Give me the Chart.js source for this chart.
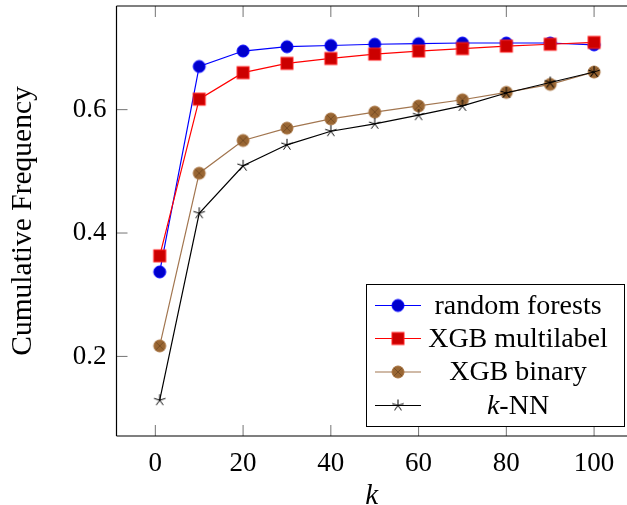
<!DOCTYPE html>
<html><head><meta charset="utf-8">
<script src="https://cdn.jsdelivr.net/npm/chart.js@4"></script>
<style>
html,body{margin:0;padding:0;overflow:hidden;background:#fff;width:627px;height:505px}
#wrap{position:relative;width:627px;height:505px}
</style></head>
<body><div id="wrap"><canvas id="c" width="627" height="505"></canvas></div>
<script>
// ---- data ----
const kValues = [1, 10, 20, 30, 40, 50, 60, 70, 80, 90, 100];
const randomForests = [0.337, 0.670, 0.695, 0.702, 0.704, 0.706, 0.707, 0.708, 0.708, 0.708, 0.705];
const xgbMultilabel = [0.363, 0.617, 0.660, 0.675, 0.683, 0.690, 0.695, 0.699, 0.703, 0.706, 0.709];
const xgbBinary     = [0.217, 0.497, 0.550, 0.570, 0.585, 0.596, 0.606, 0.616, 0.628, 0.641, 0.661];
const knn           = [0.129, 0.432, 0.509, 0.543, 0.565, 0.577, 0.591, 0.606, 0.627, 0.644, 0.661];
const seriesNames = ['random forests', 'XGB multilabel', 'XGB binary', 'k-NN'];
const xTickValues = [0, 20, 40, 60, 80, 100];
const yTickValues = [0.2, 0.4, 0.6];
const xRange = [-8.85, 107.5];
const yRange = [0.071, 0.768];
const xTitle = 'k';
const yTitle = 'Cumulative Frequency';

const FONT = "'Liberation Serif', 'DejaVu Serif', serif";

// ---- markers ----
function mk(draw){ const c=document.createElement('canvas'); c.width=18; c.height=18; const g=c.getContext('2d'); g.translate(9,9); draw(g); return c; }
const mCircle = mk(g=>{ g.beginPath(); g.arc(0,0,6,0,Math.PI*2); g.fillStyle='#0000cc'; g.fill(); g.lineWidth=1; g.strokeStyle='#0000ff'; g.stroke(); });
const mSquare = mk(g=>{ g.fillStyle='#cc0000'; g.fillRect(-6,-6,12,12); g.lineWidth=1; g.strokeStyle='#ff2020'; g.strokeRect(-6,-6,12,12); });
const mOtimes = mk(g=>{ g.beginPath(); g.arc(0,0,6,0,Math.PI*2); g.fillStyle='#996633'; g.fill(); g.lineWidth=1; g.strokeStyle='#a87340'; g.stroke();
  const d=6/Math.SQRT2; g.beginPath(); g.moveTo(-d,-d); g.lineTo(d,d); g.moveTo(-d,d); g.lineTo(d,-d); g.lineWidth=0.8; g.strokeStyle='#6e4622'; g.stroke(); });
const mStar = mk(g=>{ g.beginPath(); for(let i=0;i<5;i++){ const a=-Math.PI/2+i*2*Math.PI/5; g.moveTo(0,0); g.lineTo(6*Math.cos(a),6*Math.sin(a)); } g.lineWidth=1; g.strokeStyle='#000'; g.stroke(); });

const lineColors = ['#0000ff', '#ff0000', '#a27650', '#000000'];
const markers = [mCircle, mSquare, mOtimes, mStar];
const seriesValues = [randomForests, xgbMultilabel, xgbBinary, knn];

const datasets = seriesValues.map((vals, i) => ({
  label: seriesNames[i],
  data: kValues.map((k, j) => ({x: k, y: vals[j]})),
  borderColor: lineColors[i],
  borderWidth: 1.2,
  pointStyle: markers[i],
  pointRadius: 6,
  pointHoverRadius: 6,
  fill: false,
  tension: 0,
  order: 3 - i
}));

const framePlugin = {
  id: 'frame',
  afterDraw(chart) {
    const ctx = chart.ctx, a = chart.chartArea, xs = chart.scales.x, ys = chart.scales.y;
    ctx.save();
    // ticks (inside)
    ctx.strokeStyle = 'rgba(0,0,0,0.55)'; ctx.lineWidth = 1;
    ctx.beginPath();
    xTickValues.forEach(v => { const p = xs.getPixelForValue(v);
      ctx.moveTo(p, a.bottom); ctx.lineTo(p, a.bottom - 11);
      ctx.moveTo(p, a.top); ctx.lineTo(p, a.top + 11); });
    yTickValues.forEach(v => { const p = ys.getPixelForValue(v);
      ctx.moveTo(a.left, p); ctx.lineTo(a.left + 11, p); });
    ctx.stroke();
    // frame (right side lies beyond the visible picture)
    ctx.strokeStyle = '#000'; ctx.lineWidth = 1.2;
    ctx.beginPath();
    ctx.moveTo(a.left, a.top); ctx.lineTo(a.right + 2, a.top);
    ctx.moveTo(a.left, a.top); ctx.lineTo(a.left, a.bottom);
    ctx.moveTo(a.left, a.bottom); ctx.lineTo(a.right + 2, a.bottom);
    ctx.stroke();
    // legend
    const lx = 366.5, ly = 284.5, lw = 258, lh = 142;
    ctx.fillStyle = '#fff'; ctx.fillRect(lx, ly, lw, lh);
    ctx.strokeStyle = '#000'; ctx.lineWidth = 1; ctx.strokeRect(lx, ly, lw, lh);
    const rowY = [305.5, 338.5, 372, 405.5];
    const LF = 28;
    ctx.textBaseline = 'middle'; ctx.fillStyle = '#000';
    seriesNames.forEach((name, i) => {
      const y = rowY[i];
      ctx.strokeStyle = lineColors[i]; ctx.lineWidth = 1.2;
      ctx.beginPath(); ctx.moveTo(375, y); ctx.lineTo(421, y); ctx.stroke();
      ctx.drawImage(markers[i], 398 - 9, y - 9);
      const cx = 518;
      if (name.startsWith('k-')) {
        ctx.font = 'italic ' + LF + 'px ' + FONT; const w1 = ctx.measureText('k').width;
        ctx.font = LF + 'px ' + FONT; const w2 = ctx.measureText(name.slice(1)).width;
        let x0 = cx - (w1 + w2) / 2;
        ctx.textAlign = 'left';
        ctx.font = 'italic ' + LF + 'px ' + FONT; ctx.fillText('k', x0, y + 1);
        ctx.font = LF + 'px ' + FONT; ctx.fillText(name.slice(1), x0 + w1, y + 1);
      } else {
        ctx.textAlign = 'center'; ctx.font = LF + 'px ' + FONT;
        ctx.fillText(name, cx, y + 1);
      }
    });
    ctx.restore();
  }
};

new Chart(document.getElementById('c'), {
  type: 'line',
  data: { datasets },
  options: {
    responsive: false,
    animation: false,
    events: [],
    layout: { autoPadding: false, padding: { top: 6, right: 0, left: 0, bottom: 0 } },
    plugins: { legend: { display: false }, tooltip: { enabled: false }, title: { display: false } },
    scales: {
      x: {
        type: 'linear', min: xRange[0], max: xRange[1],
        afterBuildTicks: s => { s.ticks = xTickValues.map(v => ({ value: v })); },
        afterFit: s => { s.height = 69; s.paddingLeft = 0; s.paddingRight = 0; s.paddingTop = 0; s.paddingBottom = 0; },
        grid: { display: false, drawTicks: false }, border: { display: false },
        ticks: { color: '#000', font: { family: FONT, size: 27 }, padding: 12, maxRotation: 0, autoSkip: false,
                 callback: v => String(v) },
        title: { display: true, text: xTitle, color: '#000', font: { family: FONT, size: 29, style: 'italic', lineHeight: 0.6 }, padding: { top: 0, bottom: 0 } }
      },
      y: {
        type: 'linear', min: yRange[0], max: yRange[1],
        afterBuildTicks: s => { s.ticks = yTickValues.map(v => ({ value: v })); },
        afterFit: s => { s.width = 116.5; s.paddingLeft = 0; s.paddingRight = 0; s.paddingTop = 0; s.paddingBottom = 0; },
        grid: { display: false, drawTicks: false }, border: { display: false },
        ticks: { color: '#000', font: { family: FONT, size: 27 }, padding: 10, autoSkip: false,
                 callback: v => v.toFixed(1) },
        title: { display: true, text: yTitle, color: '#000', font: { family: FONT, size: 29.5 }, padding: { top: 6, bottom: 0 } }
      }
    }
  },
  plugins: [framePlugin]
});
</script>
</body></html>
